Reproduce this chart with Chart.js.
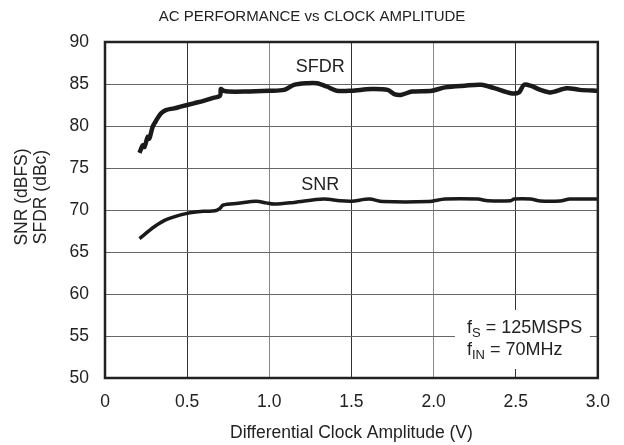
<!doctype html>
<html lang="en">
  <head>
    <script src="https://cdn.jsdelivr.net/npm/chart.js"></script>
    <style>
      html, body { margin: 0; padding: 0; background: #fff; }
      #wrap { width: 624px; height: 445px; }
    </style>
  </head>
  <body>
    <div id="wrap"><canvas id="myChart"></canvas></div>
    <script>
      // values
      const sfdrX = [0.21, 0.23, 0.24, 0.26, 0.27, 0.29, 0.31, 0.34, 0.37, 0.42, 0.46, 0.54, 0.6, 0.65, 0.7, 0.705, 0.72, 0.75, 0.85, 1.0, 1.09, 1.15, 1.23, 1.29, 1.35, 1.41, 1.5, 1.62, 1.72, 1.76, 1.8, 1.87, 1.99, 2.07, 2.19, 2.29, 2.37, 2.47, 2.52, 2.55, 2.59, 2.65, 2.71, 2.81, 2.89, 3.0];
      const sfdrY = [76.8, 77.7, 77.5, 78.7, 78.5, 79.9, 80.6, 81.5, 81.9, 82.1, 82.3, 82.7, 83.0, 83.3, 83.6, 84.4, 84.2, 84.1, 84.1, 84.2, 84.3, 84.9, 85.1, 85.1, 84.7, 84.2, 84.2, 84.4, 84.3, 83.8, 83.7, 84.1, 84.2, 84.6, 84.8, 84.9, 84.5, 83.9, 84.0, 84.9, 84.8, 84.3, 84.0, 84.5, 84.3, 84.2];
      const snrX = [0.21, 0.3, 0.38, 0.5, 0.6, 0.67, 0.7, 0.72, 0.81, 0.92, 0.98, 1.03, 1.15, 1.33, 1.43, 1.5, 1.61, 1.69, 1.97, 2.07, 2.27, 2.33, 2.47, 2.49, 2.59, 2.65, 2.77, 2.83, 3.0];
      const snrY = [66.6, 68.0, 68.9, 69.6, 69.85, 69.9, 70.2, 70.6, 70.8, 71.05, 70.85, 70.7, 70.9, 71.3, 71.1, 71.05, 71.3, 71.0, 71.0, 71.3, 71.3, 71.1, 71.1, 71.3, 71.3, 71.07, 71.07, 71.3, 71.3];
      const xTicks = [0, 0.5, 1.0, 1.5, 2.0, 2.5, 3.0];
      const yTicks = [50, 55, 60, 65, 70, 75, 80, 85, 90];

      const FONT = "'Liberation Sans', Arial, sans-serif";
      const INK = '#222';

      function toPoints(xs, ys) {
        const pts = [];
        for (let i = 0; i < xs.length; i++) {
          pts.push({ x: xs[i], y: ys[i] });
        }
        return pts;
      }

      // frame, title, curve labels, conditions box, axis titles
      const decor = {
        id: 'decor',
        beforeDatasetsDraw(chart) {
          const c = chart.ctx;
          const xs = chart.scales.x, ys = chart.scales.y;
          // white box behind the conditions text
          c.save();
          c.fillStyle = '#fff';
          c.fillRect(xs.getPixelForValue(2.13), ys.getPixelForValue(58.1), 135, 59);
          c.restore();
        },
        afterDatasetsDraw(chart) {
          const c = chart.ctx;
          const a = chart.chartArea;
          const xs = chart.scales.x, ys = chart.scales.y;
          c.save();
          c.strokeStyle = INK;
          c.lineWidth = 2.5;
          c.strokeRect(a.left, a.top, a.right - a.left, a.bottom - a.top);

          c.fillStyle = INK;
          c.textAlign = 'center';
          c.textBaseline = 'middle';
          c.font = '15px ' + FONT;
          c.fillText('AC PERFORMANCE vs CLOCK AMPLITUDE', 312, 17);

          c.font = '18px ' + FONT;
          c.fillText('SFDR', xs.getPixelForValue(1.31), ys.getPixelForValue(87.0));
          c.fillText('SNR', xs.getPixelForValue(1.31), ys.getPixelForValue(73.0));

          // fS / fIN with subscripts
          c.textAlign = 'left';
          c.textBaseline = 'alphabetic';
          const x0 = 467;
          const lines = [['f', 'S', ' = 125MSPS', 333], ['f', 'IN', ' = 70MHz', 355]];
          lines.forEach(function (l) {
            let x = x0;
            c.font = '18px ' + FONT;
            c.fillText(l[0], x, l[3]);
            x += c.measureText(l[0]).width;
            c.font = '13px ' + FONT;
            c.fillText(l[1], x, l[3] + 4);
            x += c.measureText(l[1]).width;
            c.font = '18px ' + FONT;
            c.fillText(l[2], x, l[3]);
          });

          // axis titles
          c.textAlign = 'center';
          c.textBaseline = 'middle';
          c.font = '17.5px ' + FONT;
          c.fillText('Differential Clock Amplitude (V)', (a.left + a.right) / 2, 433);
          c.translate(0, 197);
          c.rotate(-Math.PI / 2);
          c.fillText('SNR (dBFS)', 0, 22);
          c.fillText('SFDR (dBc)', 0, 41);
          c.restore();
        }
      };

      const canvas = document.getElementById('myChart');
      const chart = new Chart(canvas, {
        type: 'line',
        data: {
          datasets: [
            {
              label: 'SFDR',
              data: toPoints(sfdrX, sfdrY),
              borderColor: '#1a1a1a',
              borderWidth: 4.5,
              pointRadius: 0,
              tension: 0.3,
              fill: false
            },
            {
              label: 'SNR',
              data: toPoints(snrX, snrY),
              borderColor: '#1a1a1a',
              borderWidth: 3.5,
              pointRadius: 0,
              tension: 0.3,
              fill: false
            }
          ]
        },
        plugins: [decor],
        options: {
          responsive: true,
          maintainAspectRatio: false,
          animation: false,
          layout: { padding: { left: 0, right: 23, top: 42, bottom: 0 } },
          plugins: {
            legend: { display: false },
            tooltip: { enabled: false },
            title: { display: false }
          },
          scales: {
            x: {
              type: 'linear',
              min: 0,
              max: 3,
              afterBuildTicks(s) { s.ticks = xTicks.map(v => ({ value: v })); },
              afterFit(s) { s.height = 67; },
              ticks: {
                color: INK,
                font: { family: FONT, size: 17.5 },
                padding: 14,
                callback: v => v === 0 ? '0' : v.toFixed(1)
              },
              grid: {
                drawTicks: false,
                lineWidth: 1,
                color: ctx => (ctx.tick && Math.round(ctx.tick.value * 2) % 2 === 1) ? '#333' : '#888'
              },
              border: { display: false }
            },
            y: {
              min: 50,
              max: 90,
              afterBuildTicks(s) { s.ticks = yTicks.map(v => ({ value: v })); },
              afterFit(s) { s.width = 105; },
              ticks: {
                color: INK,
                font: { family: FONT, size: 17.5 },
                padding: 16
              },
              grid: {
                drawTicks: false,
                lineWidth: 1,
                color: '#666'
              },
              border: { display: false }
            }
          }
        }
      });
    </script>
  </body>
</html>
